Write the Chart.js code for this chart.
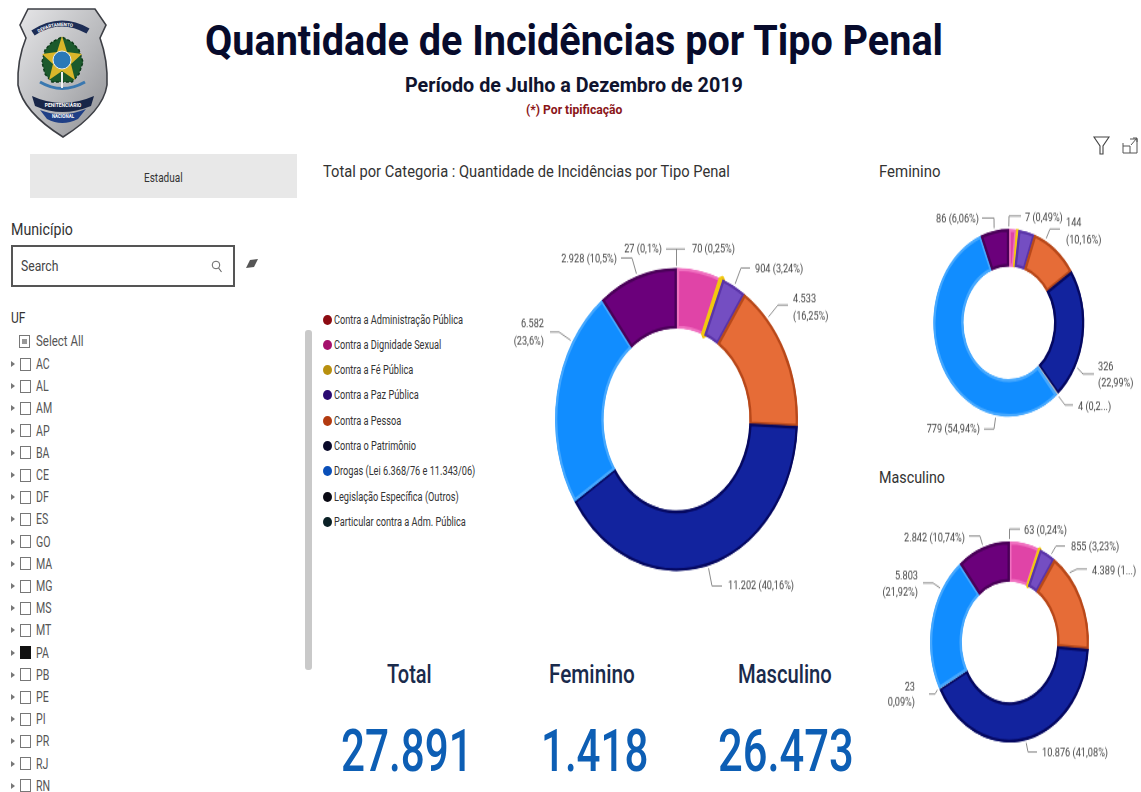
<!DOCTYPE html>
<html lang="pt-BR">
<head>
<meta charset="utf-8">
<title>Quantidade de Incidências por Tipo Penal</title>
<script src="https://cdn.jsdelivr.net/npm/chart.js@4"></script>
<style>
  html, body { margin: 0; padding: 0; background: #fff; overflow: hidden; width: 1141px; height: 792px; }
  body { position: relative; font-family: Roboto, sans-serif; filter: blur(0.3px); }
  .txt { position: absolute; white-space: nowrap; transform-origin: left center; line-height: 1; }
  canvas { position: absolute; transform-origin: 0 0; }
  .box { position: absolute; box-sizing: border-box; }
  svg { position: absolute; overflow: visible; }
</style>
</head>
<body>
<svg style="left:0;top:0" width="1141" height="792">
  <defs>
    <linearGradient id="silver" x1="0" y1="0" x2="1" y2="1">
      <stop offset="0" stop-color="#e6e6e8"/><stop offset="0.55" stop-color="#b9babd"/><stop offset="1" stop-color="#8d8e92"/>
    </linearGradient>
  </defs>
  <!-- badge -->
  <path d="M28 9 L95 9 L106 25 L100 38 Q108 60 107 85 Q103 112 63 137 Q23 112 18 85 Q17 60 26 38 L20 25 Z" fill="url(#silver)" stroke="#3d3f45" stroke-width="1.6"/>
  <path d="M33 33 Q60 15 88 31" fill="none" stroke="#1d2d55" stroke-width="6"/>
  <path id="badgeTop" d="M35 35 Q60 18 87 33" fill="none"/>
  <text font-family="Roboto" font-size="4.6" font-weight="700" fill="#fff"><textPath href="#badgeTop" startOffset="4">DEPARTAMENTO</textPath></text>
  <path d="M42 62 L45 50 L52 42 L62 37 L72 42 L79 50 L83 62 L79 74 L72 82 L52 82 L45 74 Z" fill="#1b5a2c" stroke="#0f3a1b" stroke-width="1.5" stroke-dasharray="3 2"/>
  <path d="M62 36 L67 52 L82 54 L71 64 L75 80 L62 71 L49 80 L53 64 L42 54 L57 52 Z" fill="#d9b62a"/>
  <circle cx="62" cy="60" r="9" fill="#2a79b8" stroke="#e6eef2" stroke-width="1"/>
  <path d="M40 82 Q62 95 85 82" fill="none" stroke="#3a78b0" stroke-width="3"/>
  <line x1="62" y1="72" x2="62" y2="88" stroke="#f1f1f1" stroke-width="2"/>
  <path d="M32 96 Q62 110 94 96 L91 106 Q62 118 35 106 Z" fill="#182648"/>
  <path d="M40 110 Q62 119 86 109 L78 119 Q62 127 47 119 Z" fill="#1f3f86"/>
  <text x="63" y="107" text-anchor="middle" font-family="Roboto" font-size="5" font-weight="700" fill="#fff">PENITENCIÁRIO</text>
  <text x="63" y="118" text-anchor="middle" font-family="Roboto" font-size="4.5" font-weight="700" fill="#fff">NACIONAL</text>
  <!-- filter and focus icons -->
  <path d="M1094 137 L1109 137 L1103 146 L1103 154 L1100 154 L1100 146 Z" fill="none" stroke="#444" stroke-width="1.1"/>
  <path d="M1123 143 L1123 153 L1137 153 L1137 139 L1130 139 M1123 146 L1130 146 L1130 153 M1131 145 L1137 138 M1133 138 L1137 138 L1137 142" fill="none" stroke="#555" stroke-width="1"/>
  <!-- search icon and eraser -->
  <circle cx="216" cy="265" r="3.8" fill="none" stroke="#666" stroke-width="1"/>
  <line x1="218.6" y1="268" x2="221.5" y2="272" stroke="#666" stroke-width="1.1"/>
  <path d="M246 268 L250 260 L258 259 L254 267 Z" fill="#555"/>
</svg>

<script>
// slices run clockwise from the top, as in the picture
const sliceNames = ['Contra a Administração Pública', 'Contra a Dignidade Sexual', 'Contra a Fé Pública', 'Contra a Paz Pública', 'Contra a Pessoa', 'Contra o Patrimônio', 'Drogas (Lei 6.368/76 e 11.343/06)', 'Legislação Específica (Outros)'];
const totalValues = [27, 1645, 70, 904, 4533, 11202, 6582, 2928];
const totalLabels = [['27 (0,1%)'], null, ['70 (0,25%)'], ['904 (3,24%)'], ['4.533', '(16,25%)'], ['11.202 (40,16%)'], ['6.582', '(23,6%)'], ['2.928 (10,5%)']];

const splitNames = ['Contra a Dignidade Sexual', 'Contra a Fé Pública', 'Contra a Paz Pública', 'Contra a Pessoa', 'Contra o Patrimônio', 'Contra a Administração Pública', 'Drogas (Lei 6.368/76 e 11.343/06)', 'Legislação Específica (Outros)'];
const femValues = [23, 7, 49, 144, 326, 4, 779, 86];
const femLabels = [null, ['7 (0,49%)'], null, ['144', '(10,16%)'], ['326', '(22,99%)'], ['4 (0,2...)'], ['779 (54,94%)'], ['86 (6,06%)']];
const mascValues = [1622, 63, 855, 4389, 10876, 23, 5803, 2842];
const mascLabels = [null, ['63 (0,24%)'], ['855 (3,23%)'], ['4.389 (1...)'], ['10.876 (41,08%)'], ['23', '0,09%)'], ['5.803', '(21,92%)'], ['2.842 (10,74%)']];

const legendNames = ['Contra a Administração Pública', 'Contra a Dignidade Sexual', 'Contra a Fé Pública', 'Contra a Paz Pública', 'Contra a Pessoa', 'Contra o Patrimônio', 'Drogas (Lei 6.368/76 e 11.343/06)', 'Legislação Específica (Outros)', 'Particular contra a Adm. Pública'];
const legendColors = ['#8c0b12', '#a5106c', '#b8900f', '#2a0a72', '#b23a10', '#0a0a2a', '#0a4fb8', '#0a0a14', '#0a2026'];
const ufNames = ['AC', 'AL', 'AM', 'AP', 'BA', 'CE', 'DF', 'ES', 'GO', 'MA', 'MG', 'MS', 'MT', 'PA', 'PB', 'PE', 'PI', 'PR', 'RJ', 'RN'];
const ufSelected = 'PA';
const kpiNames = ['Total', 'Feminino', 'Masculino'];
const kpiValues = ['27.891', '1.418', '26.473'];

// colours by category name
const sliceColors = {
  'Contra a Administração Pública': '#a9b8c4',
  'Contra a Dignidade Sexual': '#E044A7',
  'Contra a Fé Pública': '#F2C80F',
  'Contra a Paz Pública': '#744EC2',
  'Contra a Pessoa': '#E66C37',
  'Contra o Patrimônio': '#12239E',
  'Drogas (Lei 6.368/76 e 11.343/06)': '#118DFF',
  'Legislação Específica (Outros)': '#6B007B'
};
const edgeColors = {
  'Contra a Administração Pública': '#a9b8c4',
  'Contra a Dignidade Sexual': '#f070c0',
  'Contra a Fé Pública': '#F2C80F',
  'Contra a Paz Pública': '#5a34a8',
  'Contra a Pessoa': '#b8481a',
  'Contra o Patrimônio': '#050860',
  'Drogas (Lei 6.368/76 e 11.343/06)': '#45a8ff',
  'Legislação Específica (Outros)': '#4a0058'
};

// text helper: fits a string to a width, stretched vertically like the screenshot
function put(text, x, y, width, font, color, sy = 1.25) {
  const el = document.createElement('div');
  el.className = 'txt';
  el.textContent = text;
  el.style.left = x + 'px';
  el.style.top = y + 'px';
  el.style.font = font;
  el.style.color = color;
  document.body.appendChild(el);
  const sx = width ? width / el.offsetWidth : 0.92;
  el.style.transform = `translateY(-50%) scale(${sx}, ${sy})`;
  return el;
}
function box(x, y, w, h, css) {
  const el = document.createElement('div');
  el.className = 'box';
  el.style.cssText = `left:${x}px;top:${y}px;width:${w}px;height:${h}px;${css}`;
  document.body.appendChild(el);
}

// header
put('Quantidade de Incidências por Tipo Penal', 205, 40, 738, '700 34px Roboto', '#070b2c');
put('Período de Julho a Dezembro de 2019', 405, 85, 338, '700 16px Roboto', '#10142e');
put('(*) Por tipificação', 526, 110, 96, '700 10.5px Roboto', '#8a1518');

// section titles
put('Total por Categoria : Quantidade de Incidências por Tipo Penal', 323, 171, 407, '400 12.5px Roboto', '#333');
put('Feminino', 879, 171, 61, '400 13px Roboto', '#333');
put('Masculino', 879, 477, 66, '400 13px Roboto', '#333');

// left panel
box(30, 154, 267, 44, 'background:#e8e8e8');
put('Estadual', 144, 178, 39, '400 9.5px Roboto', '#333');
put('Município', 11, 229, 62, '400 13.5px Roboto', '#333');
box(11, 245, 224, 42, 'border:2px solid #555');
put('Search', 21, 266, 37, '400 11.5px Roboto', '#444');
put('UF', 11, 318, 14, '400 12px Roboto', '#333');
box(19, 335, 11, 13, 'border:1px solid #777');
box(22, 339, 5, 5, 'background:#999');
put('Select All', 36, 342, 47, '400 11px Roboto', '#555');
ufNames.forEach((uf, i) => {
  const y = 364 + i * 22.2;
  box(11, y - 3, 0, 0, 'border-left:4px solid #777;border-top:3px solid transparent;border-bottom:3px solid transparent');
  box(20, y - 6.5, 11, 13, uf === ufSelected ? 'background:#111' : 'border:1px solid #777');
  put(uf, 36, y, 0, '400 11.5px Roboto', '#555');
});
box(305, 330, 7, 340, 'background:#c9c9c9;border-radius:3px');

// legend
legendNames.forEach((name, i) => {
  const y = 319.5 + i * 25.3;
  box(323, y - 5, 9, 10, `background:${legendColors[i]};border-radius:50%`);
  put(name, 334, y, 0, '400 10px Roboto', '#333');
});

// KPI cards
[[387, 45], [549, 86], [738, 94]].forEach(([x, w], i) => put(kpiNames[i], x, 674, w, '500 20px Roboto', '#1a2b4c'));
[[341, 132], [541, 107], [718, 136]].forEach(([x, w], i) => put(kpiValues[i], x, 750, w, '500 48px Roboto', '#0d5eb4'));

// label plugin: leader line from the slice edge through an elbow to the text
const leaderLabels = {
  id: 'leaderLabels',
  afterDatasetsDraw(chart, args, opts) {
    const { ctx } = chart;
    const arcs = chart.getDatasetMeta(0).data;
    ctx.save();
    ctx.font = '400 9.2px Roboto';
    ctx.textBaseline = 'middle';
    opts.layout.forEach(l => {
      const p = arcs[l.anchor].getProps(['x', 'y', 'startAngle', 'endAngle', 'outerRadius'], true);
      const a = p.startAngle + (p.endAngle - p.startAngle) * l.frac;
      const toX = x => x - opts.left;
      const toY = y => (y - opts.top) / opts.sy;
      ctx.strokeStyle = '#8a8a8a';
      ctx.lineWidth = 1;
      ctx.beginPath();
      ctx.moveTo(toX(l.from[0]), toY(l.from[1]));
      ctx.lineTo(toX(l.elbow[0]), toY(l.elbow[1]));
      ctx.lineTo(p.x + Math.cos(a) * (p.outerRadius + 2), p.y + Math.sin(a) * (p.outerRadius + 2));
      ctx.stroke();
      ctx.fillStyle = '#444';
      ctx.textAlign = l.align;
      opts.labels[l.slice].forEach((line, n) => ctx.fillText(line, toX(l.x), toY(l.ys[n])));
    });
    ctx.restore();
  }
};

function donut(spec) {
  const c = document.createElement('canvas');
  c.width = spec.left[1] - spec.left[0];
  c.height = Math.round((spec.top[1] - spec.top[0]) / spec.sy);
  c.style.left = spec.left[0] + 'px';
  c.style.top = spec.top[0] + 'px';
  c.style.width = c.width + 'px';
  c.style.height = c.height + 'px';
  c.style.transform = `scaleY(${spec.sy})`;
  document.body.appendChild(c);
  const yc = (spec.cy - spec.top[0]) / spec.sy;
  const r = spec.r + spec.yellowWidth / 2;
  new Chart(c, {
    type: 'doughnut',
    data: {
      labels: spec.names,
      datasets: [{
        data: spec.values,
        backgroundColor: spec.names.map(n => sliceColors[n]),
        borderColor: spec.names.map(n => edgeColors[n]),
        borderWidth: spec.names.map(n => n === 'Contra a Fé Pública' ? spec.yellowWidth : 2),
        hoverBorderWidth: 0,
        borderAlign: spec.names.map(n => n === 'Contra a Fé Pública' ? 'center' : 'inner'),
        hoverOffset: 0
      }]
    },
    options: {
      responsive: false,
      animation: false,
      cutout: '60%',
      events: [],
      layout: {
        padding: {
          left: spec.cx - r - spec.left[0],
          right: spec.left[1] - spec.cx - r,
          top: yc - r,
          bottom: c.height - yc - r
        }
      },
      plugins: {
        legend: { display: false },
        tooltip: { enabled: false },
        leaderLabels: { layout: spec.layout, labels: spec.labels, left: spec.left[0], top: spec.top[0], sy: spec.sy }
      }
    },
    plugins: [leaderLabels]
  });
}

donut({
  names: sliceNames, values: totalValues, labels: totalLabels,
  left: [500, 850], top: [225, 600], cx: 676.5, cy: 419.5, r: 121.5, sy: 1.247, yellowWidth: 5,
  layout: [
    { slice: 0, anchor: 0, frac: 0, from: [666, 249], elbow: [676.5, 249], x: 662, ys: [249], align: 'right' },
    { slice: 2, anchor: 0, frac: 0, from: [685, 249], elbow: [676.5, 249], x: 692, ys: [249], align: 'left' },
    { slice: 3, anchor: 3, frac: 0.5, from: [750, 268], elbow: [741, 268], x: 755, ys: [270], align: 'left' },
    { slice: 4, anchor: 4, frac: 0.24, from: [788, 305], elbow: [778, 305], x: 793, ys: [300, 317], align: 'left' },
    { slice: 5, anchor: 5, frac: 0.5, from: [722, 586], elbow: [712, 586], x: 728, ys: [586], align: 'left' },
    { slice: 6, anchor: 6, frac: 0.75, from: [550, 332], elbow: [559, 332], x: 544, ys: [325, 342], align: 'right' },
    { slice: 7, anchor: 7, frac: 0.5, from: [621, 258], elbow: [632, 258], x: 617, ys: [260], align: 'right' }
  ]
});

donut({
  names: splitNames, values: femValues, labels: femLabels,
  left: [880, 1141], top: [205, 445], cx: 1008.8, cy: 322.8, r: 75.5, sy: 1.243, yellowWidth: 1,
  layout: [
    { slice: 1, anchor: 0, frac: 0, from: [1021, 216], elbow: [1009, 216], x: 1025, ys: [218], align: 'left' },
    { slice: 3, anchor: 3, frac: 0.24, from: [1060, 229], elbow: [1050, 229], x: 1066, ys: [223, 241], align: 'left' },
    { slice: 4, anchor: 4, frac: 0.74, from: [1094, 374], elbow: [1083, 374], x: 1098, ys: [367, 384], align: 'left' },
    { slice: 5, anchor: 5, frac: 0.5, from: [1073, 405], elbow: [1065, 405], x: 1078, ys: [407], align: 'left' },
    { slice: 6, anchor: 6, frac: 0.25, from: [984, 429], elbow: [994, 429], x: 980, ys: [429], align: 'right' },
    { slice: 7, anchor: 7, frac: 0.5, from: [982, 218], elbow: [994, 218], x: 979, ys: [220], align: 'right' }
  ]
});

donut({
  names: splitNames, values: mascValues, labels: mascLabels,
  left: [875, 1141], top: [520, 770], cx: 1009.5, cy: 642, r: 79.5, sy: 1.264, yellowWidth: 3,
  layout: [
    { slice: 1, anchor: 0, frac: 0, from: [1020, 529], elbow: [1009.5, 529], x: 1024, ys: [531], align: 'left' },
    { slice: 2, anchor: 2, frac: 0.7, from: [1065, 546], elbow: [1056, 546], x: 1071, ys: [548], align: 'left' },
    { slice: 3, anchor: 3, frac: 0.22, from: [1087, 569], elbow: [1077, 569], x: 1092, ys: [571], align: 'left' },
    { slice: 4, anchor: 4, frac: 0.5, from: [1037, 752], elbow: [1028, 752], x: 1042, ys: [754], align: 'left' },
    { slice: 5, anchor: 5, frac: 0.5, from: [929, 694], elbow: [935, 694], x: 915, ys: [688, 703], align: 'right' },
    { slice: 6, anchor: 6, frac: 0.75, from: [923, 583], elbow: [933, 583], x: 918, ys: [576, 593], align: 'right' },
    { slice: 7, anchor: 7, frac: 0.5, from: [969, 536], elbow: [980, 536], x: 965, ys: [538], align: 'right' }
  ]
});
</script>
</body>
</html>
